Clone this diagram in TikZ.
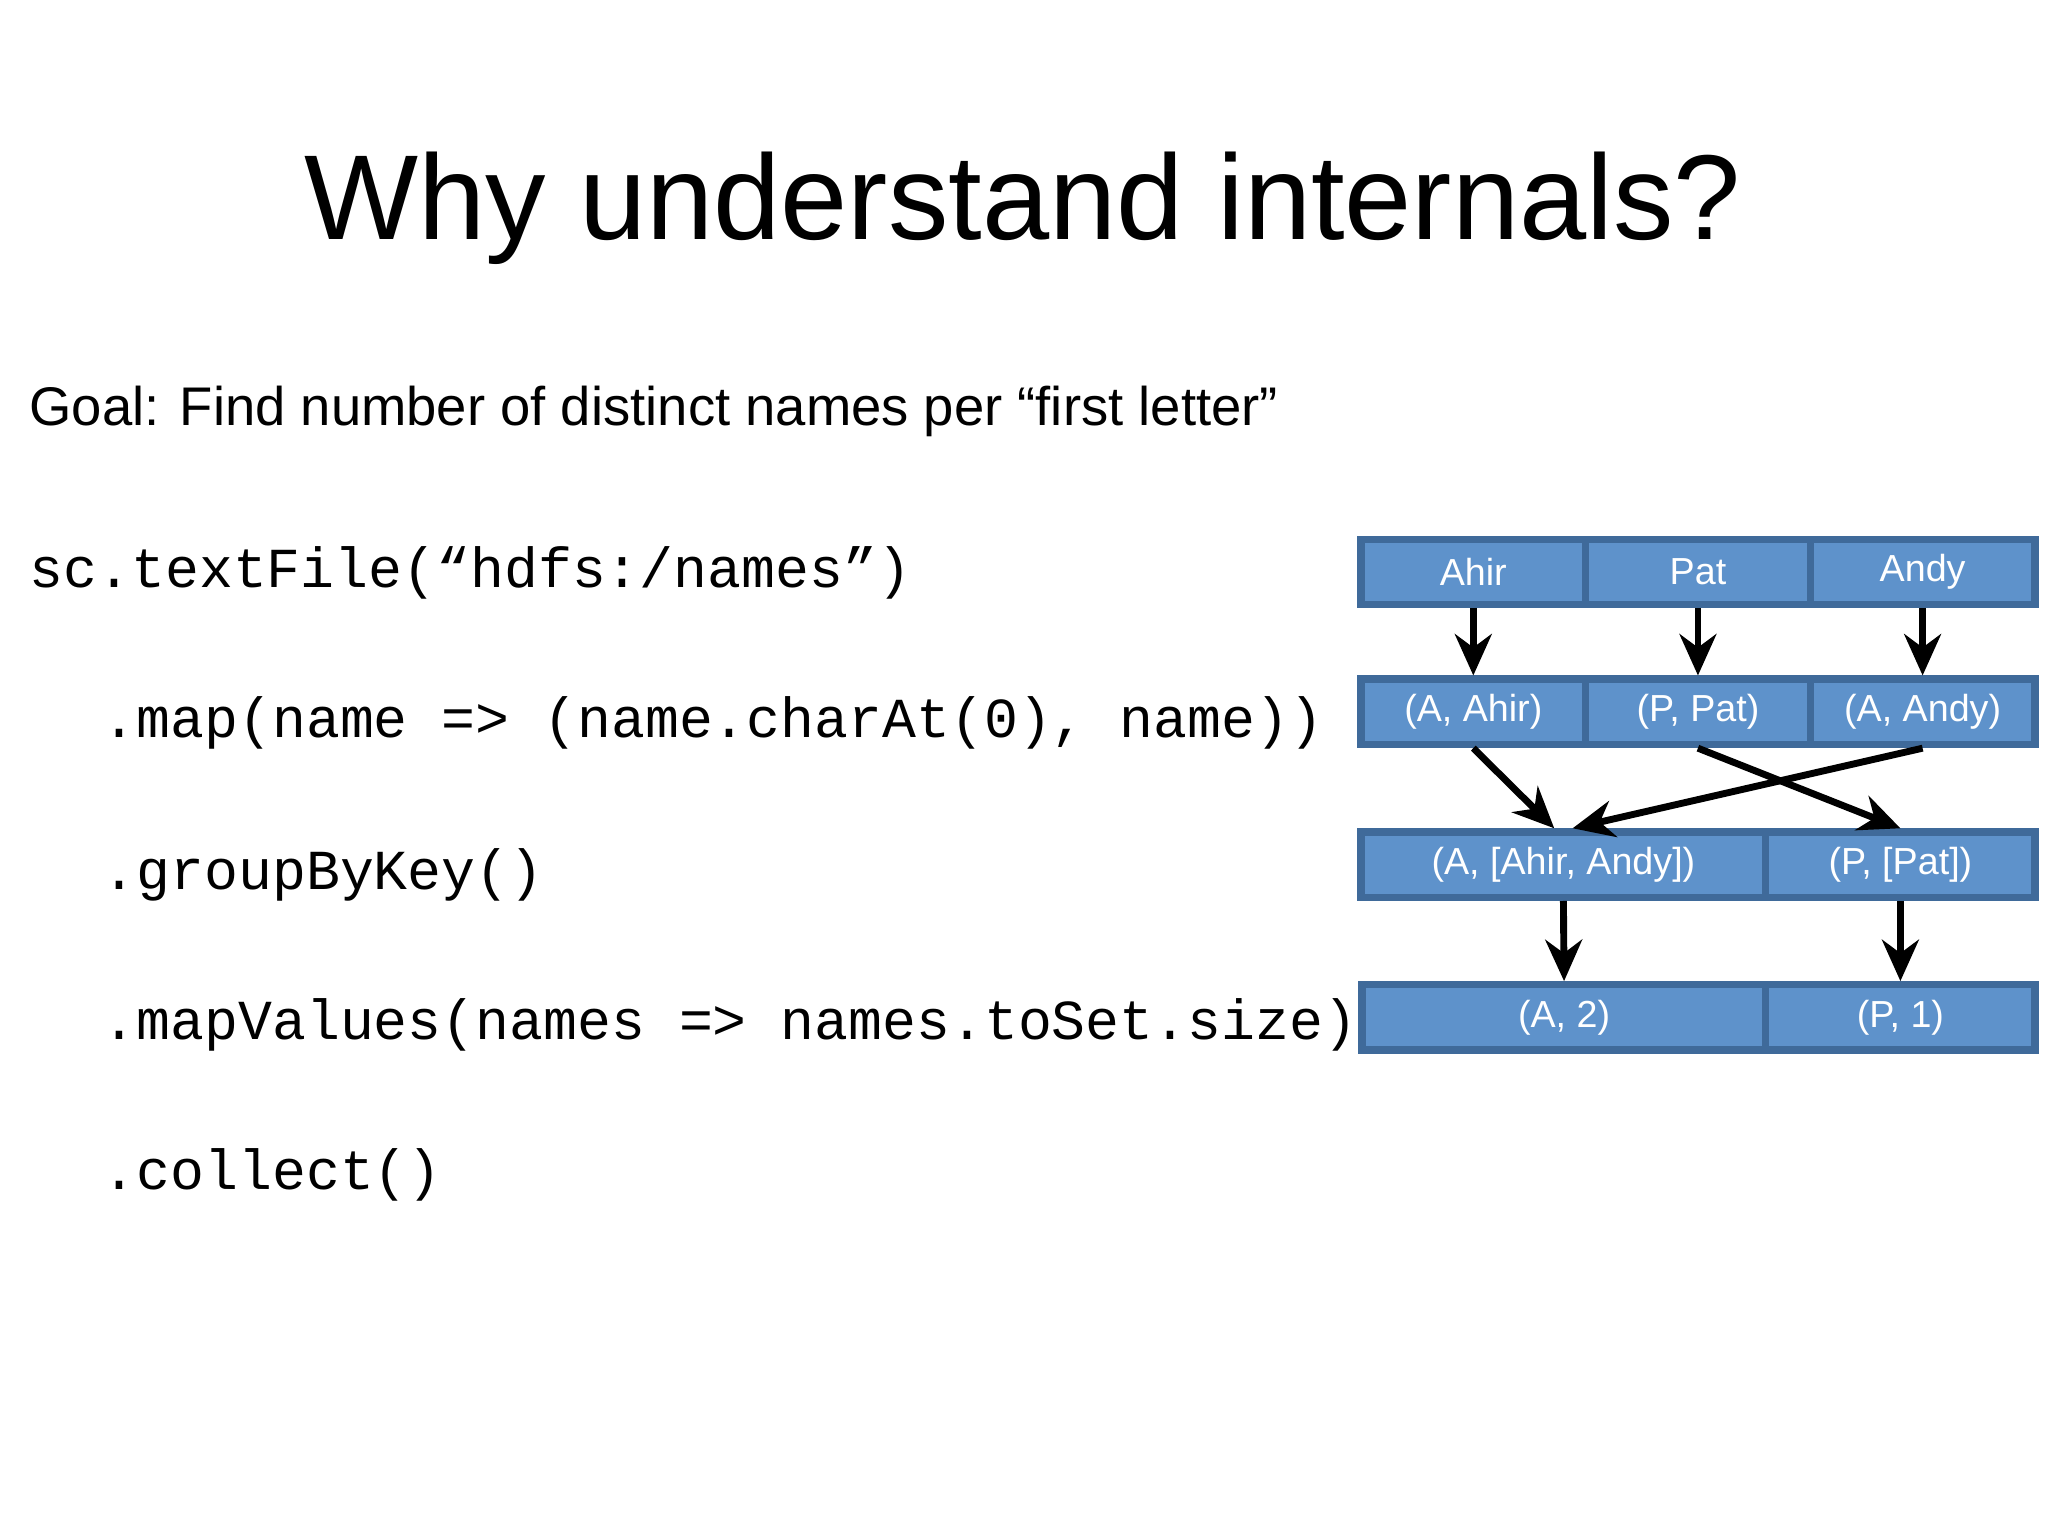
\documentclass[tikz,border=0pt]{standalone}
\usepackage{fontspec}
\setmainfont{Liberation Sans}
\setmonofont{Liberation Mono}
\usetikzlibrary{arrows.meta}
\definecolor{cellfill}{HTML}{5E92CB}
\definecolor{celldraw}{HTML}{3F6A9A}
\tikzset{
  cell/.style={draw=celldraw,fill=cellfill,line width=1.6pt,text=white,inner sep=0pt,
    minimum height=0.5cm,font=\fontsize{8.2}{10}\selectfont},
  code/.style={anchor=base west,inner sep=0pt,font=\ttfamily\fontsize{12.3}{14}\selectfont},
  flow/.style={-{Stealth[length=9pt,width=8pt]},line width=1.5pt}
}
\begin{document}
\begin{tikzpicture}[x=0.01cm,y=-0.01cm]
\useasboundingbox (0,0) rectangle (1568,1176);
\node[inner sep=0pt,anchor=base,font=\fontsize{26.3}{30}\selectfont] (title) at (783,183) {Why understand internals?};
\node[inner sep=0pt,anchor=base west,font=\fontsize{11.85}{14}\selectfont] (goal) at (22,326) {Goal: Find number of distinct names per “first letter”};
\node[code] (c1) at (22,450) {sc.textFile(“hdfs:/names”)};
\node[code] (c2) at (78,565) {.map(name => (name.charAt(0), name))};
\node[code] (c3) at (78,681) {.groupByKey()};
\node[code] (c4) at (78,796) {.mapValues(names => names.toSet.size)};
\node[code] (c5) at (78,911) {.collect()};
% row 1
\node[cell,minimum width=1.72cm] (a1) at (1128,438) {Ahir};
\node[cell,minimum width=1.72cm] (a2) at (1300,438) {Pat};
\node[cell,minimum width=1.72cm] (a3) at (1472,438) {Andy};
% row 2
\node[cell,minimum width=1.72cm] (b1) at (1128,545) {(A, Ahir)};
\node[cell,minimum width=1.72cm] (b2) at (1300,545) {(P, Pat)};
\node[cell,minimum width=1.72cm] (b3) at (1472,545) {(A, Andy)};
% row 3
\node[cell,minimum width=3.10cm] (g1) at (1197,662) {(A, [Ahir, Andy])};
\node[cell,minimum width=2.06cm] (g2) at (1455,662) {(P, [Pat])};
% row 4
\node[cell,minimum width=3.09cm] (r1) at (1197.5,779) {(A, 2)};
\node[cell,minimum width=2.06cm] (r2) at (1455,779) {(P, 1)};
% arrows
\draw[flow] (a1.south) -- (b1.north);
\draw[flow] (a2.south) -- (b2.north);
\draw[flow] (a3.south) -- (b3.north);
\draw[flow] (b1.south) -- ([xshift=-2]g1.north);
\draw[flow] (b3.south) -- ([xshift=2]g1.north);
\draw[flow] (b2.south) -- (g2.north);
\draw[flow] (g1.south) -- (r1.north);
\draw[flow] (g2.south) -- (r2.north);
\end{tikzpicture}
\end{document}
